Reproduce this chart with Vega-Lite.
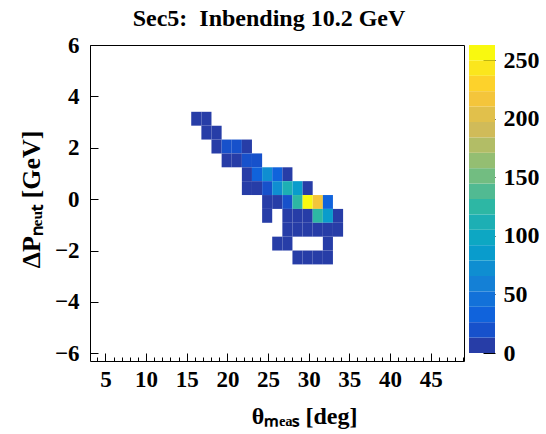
{
  "$schema": "https://vega.github.io/schema/vega-lite/v6.json",
  "background": "white",
  "padding": {"left": 17, "top": 6, "right": 0, "bottom": 0},
  "datasets": {
    "cells": [
      {"x": 15.55, "x2": 16.80, "y": 2.86, "y2": 3.40, "n": 5},
      {"x": 16.80, "x2": 18.04, "y": 2.86, "y2": 3.40, "n": 4},
      {"x": 16.80, "x2": 18.04, "y": 2.32, "y2": 2.86, "n": 6},
      {"x": 18.04, "x2": 19.29, "y": 2.32, "y2": 2.86, "n": 5},
      {"x": 18.04, "x2": 19.29, "y": 1.78, "y2": 2.32, "n": 8},
      {"x": 19.29, "x2": 20.53, "y": 1.78, "y2": 2.32, "n": 18},
      {"x": 20.53, "x2": 21.78, "y": 1.78, "y2": 2.32, "n": 17},
      {"x": 21.78, "x2": 23.02, "y": 1.78, "y2": 2.32, "n": 9},
      {"x": 19.29, "x2": 20.53, "y": 1.24, "y2": 1.78, "n": 10},
      {"x": 20.53, "x2": 21.78, "y": 1.24, "y2": 1.78, "n": 9},
      {"x": 21.78, "x2": 23.02, "y": 1.24, "y2": 1.78, "n": 20},
      {"x": 23.02, "x2": 24.27, "y": 1.24, "y2": 1.78, "n": 19},
      {"x": 21.78, "x2": 23.02, "y": 0.70, "y2": 1.24, "n": 7},
      {"x": 23.02, "x2": 24.27, "y": 0.70, "y2": 1.24, "n": 33},
      {"x": 24.27, "x2": 25.51, "y": 0.70, "y2": 1.24, "n": 72},
      {"x": 25.51, "x2": 26.76, "y": 0.70, "y2": 1.24, "n": 34},
      {"x": 26.76, "x2": 28.00, "y": 0.70, "y2": 1.24, "n": 8},
      {"x": 21.78, "x2": 23.02, "y": 0.16, "y2": 0.70, "n": 6},
      {"x": 23.02, "x2": 24.27, "y": 0.16, "y2": 0.70, "n": 9},
      {"x": 24.27, "x2": 25.51, "y": 0.16, "y2": 0.70, "n": 21},
      {"x": 25.51, "x2": 26.76, "y": 0.16, "y2": 0.70, "n": 70},
      {"x": 26.76, "x2": 28.00, "y": 0.16, "y2": 0.70, "n": 110},
      {"x": 28.00, "x2": 29.25, "y": 0.16, "y2": 0.70, "n": 86},
      {"x": 29.25, "x2": 30.49, "y": 0.16, "y2": 0.70, "n": 10},
      {"x": 24.27, "x2": 25.51, "y": -0.38, "y2": 0.16, "n": 8},
      {"x": 25.51, "x2": 26.76, "y": -0.38, "y2": 0.16, "n": 11},
      {"x": 26.76, "x2": 28.00, "y": -0.38, "y2": 0.16, "n": 22},
      {"x": 28.00, "x2": 29.25, "y": -0.38, "y2": 0.16, "n": 125},
      {"x": 29.25, "x2": 30.49, "y": -0.38, "y2": 0.16, "n": 258},
      {"x": 30.49, "x2": 31.74, "y": -0.38, "y2": 0.16, "n": 220},
      {"x": 31.74, "x2": 32.98, "y": -0.38, "y2": 0.16, "n": 33},
      {"x": 24.27, "x2": 25.51, "y": -0.92, "y2": -0.38, "n": 4},
      {"x": 26.76, "x2": 28.00, "y": -0.92, "y2": -0.38, "n": 10},
      {"x": 28.00, "x2": 29.25, "y": -0.92, "y2": -0.38, "n": 12},
      {"x": 29.25, "x2": 30.49, "y": -0.92, "y2": -0.38, "n": 11},
      {"x": 30.49, "x2": 31.74, "y": -0.92, "y2": -0.38, "n": 124},
      {"x": 31.74, "x2": 32.98, "y": -0.92, "y2": -0.38, "n": 88},
      {"x": 32.98, "x2": 34.23, "y": -0.92, "y2": -0.38, "n": 7},
      {"x": 26.76, "x2": 28.00, "y": -1.46, "y2": -0.92, "n": 8},
      {"x": 28.00, "x2": 29.25, "y": -1.46, "y2": -0.92, "n": 9},
      {"x": 29.25, "x2": 30.49, "y": -1.46, "y2": -0.92, "n": 10},
      {"x": 30.49, "x2": 31.74, "y": -1.46, "y2": -0.92, "n": 12},
      {"x": 31.74, "x2": 32.98, "y": -1.46, "y2": -0.92, "n": 9},
      {"x": 32.98, "x2": 34.23, "y": -1.46, "y2": -0.92, "n": 5},
      {"x": 25.51, "x2": 26.76, "y": -2.00, "y2": -1.46, "n": 4},
      {"x": 26.76, "x2": 28.00, "y": -2.00, "y2": -1.46, "n": 6},
      {"x": 31.74, "x2": 32.98, "y": -2.00, "y2": -1.46, "n": 5},
      {"x": 28.00, "x2": 29.25, "y": -2.54, "y2": -2.00, "n": 5},
      {"x": 29.25, "x2": 30.49, "y": -2.54, "y2": -2.00, "n": 6},
      {"x": 30.49, "x2": 31.74, "y": -2.54, "y2": -2.00, "n": 7},
      {"x": 31.74, "x2": 32.98, "y": -2.54, "y2": -2.00, "n": 4}
    ],
    "bands": [
      {"lo": 0, "hi": 13.15, "band": 0},
      {"lo": 13.15, "hi": 26.3, "band": 1},
      {"lo": 26.3, "hi": 39.45, "band": 2},
      {"lo": 39.45, "hi": 52.6, "band": 3},
      {"lo": 52.6, "hi": 65.75, "band": 4},
      {"lo": 65.75, "hi": 78.9, "band": 5},
      {"lo": 78.9, "hi": 92.05, "band": 6},
      {"lo": 92.05, "hi": 105.2, "band": 7},
      {"lo": 105.2, "hi": 118.35, "band": 8},
      {"lo": 118.35, "hi": 131.5, "band": 9},
      {"lo": 131.5, "hi": 144.65, "band": 10},
      {"lo": 144.65, "hi": 157.8, "band": 11},
      {"lo": 157.8, "hi": 170.95, "band": 12},
      {"lo": 170.95, "hi": 184.1, "band": 13},
      {"lo": 184.1, "hi": 197.25, "band": 14},
      {"lo": 197.25, "hi": 210.4, "band": 15},
      {"lo": 210.4, "hi": 223.55, "band": 16},
      {"lo": 223.55, "hi": 236.7, "band": 17},
      {"lo": 236.7, "hi": 249.85, "band": 18},
      {"lo": 249.85, "hi": 263, "band": 19}
    ]
  },
  "config": {
    "view": {"stroke": "black", "strokeWidth": 1},
    "axis": {
      "domain": false,
      "grid": false,
      "tickColor": "black",
      "tickWidth": 1,
      "labelFont": "Liberation Serif",
      "labelFontWeight": "bold",
      "labelColor": "black",
      "labelFontSize": 23,
      "labelOverlap": false,
      "labelFlush": false,
      "labelBound": false,
      "titleFont": "Liberation Serif",
      "titleFontWeight": "bold",
      "titleColor": "black",
      "titleFontSize": 24
    }
  },
  "spacing": 4,
  "resolve": {"scale": {"color": "independent", "y": "independent"}},
  "hconcat": [
    {
      "width": 374,
      "height": 316,
      "title": {
        "text": "Sec5:\u00a0 Inbending 10.2 GeV",
        "font": "Liberation Serif",
        "fontSize": 24,
        "fontWeight": "bold",
        "color": "black",
        "offset": 3,
        "dx": -8
      },
      "layer": [
        {
          "data": {"name": "cells"},
          "mark": {"type": "rect"},
          "encoding": {
            "x": {
              "field": "x",
              "type": "quantitative",
              "scale": {"domain": [3.1, 49.1], "nice": false, "zero": false},
              "axis": {
                "values": [4,5,6,7,8,9,10,11,12,13,14,15,16,17,18,19,20,21,22,23,24,25,26,27,28,29,30,31,32,33,34,35,36,37,38,39,40,41,42,43,44,45,46,47,48,49],
                "labelExpr": "datum.value % 5 === 0 ? datum.label : ''",
                "tickSize": {"condition": {"test": "datum.value % 5 === 0", "value": -8}, "value": -4},
                "labelPadding": 15,
                "title": "θₘₑₐₛ [deg]",
                "titleX": 214,
                "titleAlign": "center",
                "titlePadding": 9
              }
            },
            "x2": {"field": "x2"},
            "y": {
              "field": "y",
              "type": "quantitative",
              "scale": {"domain": [-6.3, 6], "nice": false, "zero": false},
              "axis": {
                "values": [-6,-5.5,-5,-4.5,-4,-3.5,-3,-2.5,-2,-1.5,-1,-0.5,0,0.5,1,1.5,2,2.5,3,3.5,4,4.5,5,5.5,6],
                "labelExpr": "datum.value % 2 === 0 ? datum.label : ''",
                "tickSize": {"condition": {"test": "datum.value % 2 === 0", "value": -8}, "value": -4},
                "labelPadding": 19,
                "title": "ΔPₙₑᵤₜ [GeV]",
                "titleFontSize": 26,
                "titleY": 154,
                "titlePadding": 10
              }
            },
            "y2": {"field": "y2"},
            "color": {
              "field": "n",
              "type": "quantitative",
              "scale": {
                "type": "quantize",
                "domain": [0, 263],
                "range": ["#273da7", "#1751cb", "#1063dc", "#1271d9", "#1480d6", "#0f8ed1", "#099ccc", "#0da7c3", "#1dafb4", "#2db7a4", "#51ba92", "#72bd81", "#94be72", "#b2bd66", "#d0bb59", "#e1c04b", "#f4c53b", "#fdd22b", "#fbe61d", "#f9f90f"]
              },
              "legend": null
            }
          }
        },
        {
          "mark": {"type": "rule", "color": "#ff0000", "strokeDash": [4, 3], "strokeWidth": 1.5},
          "encoding": {
            "y": {"datum": 0, "type": "quantitative"}
          }
        }
      ]
    },
    {
      "width": 26,
      "height": 308,
      "view": {"stroke": null},
      "data": {"name": "bands"},
      "mark": {"type": "rect"},
      "encoding": {
        "y": {
          "field": "lo",
          "type": "quantitative",
          "scale": {"domain": [0, 263], "nice": false, "zero": false},
          "axis": {
            "orient": "right",
            "values": [0, 50, 100, 150, 200, 250],
            "tickSize": -12,
            "labelPadding": 20,
            "labelFontSize": 24,
            "title": null
          }
        },
        "y2": {"field": "hi"},
        "color": {
          "field": "band",
          "type": "ordinal",
          "scale": {
            "range": ["#273da7", "#1751cb", "#1063dc", "#1271d9", "#1480d6", "#0f8ed1", "#099ccc", "#0da7c3", "#1dafb4", "#2db7a4", "#51ba92", "#72bd81", "#94be72", "#b2bd66", "#d0bb59", "#e1c04b", "#f4c53b", "#fdd22b", "#fbe61d", "#f9f90f"]
          },
          "legend": null
        }
      }
    }
  ]
}
